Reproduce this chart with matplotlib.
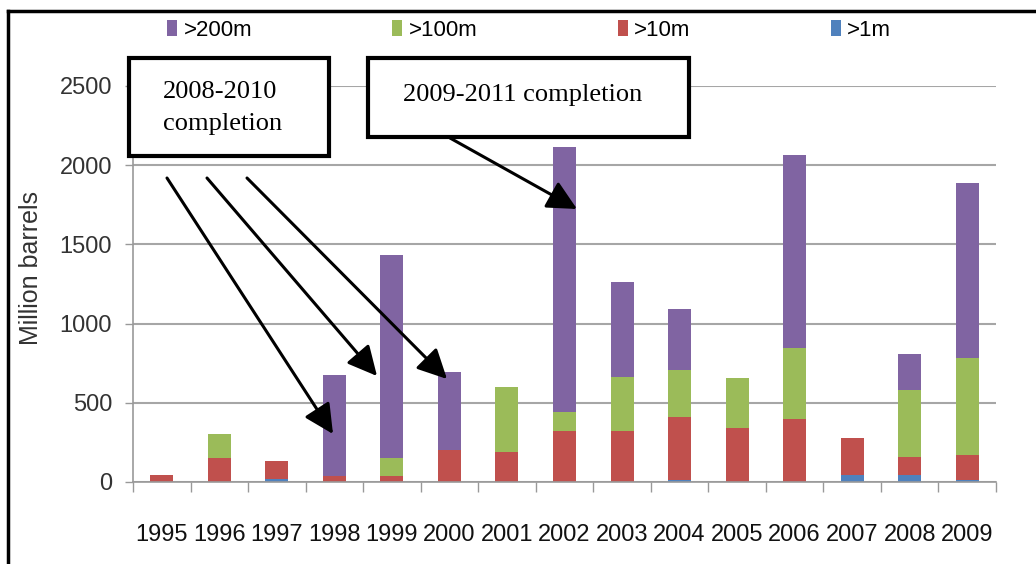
# Librerías.
import numpy as np
import matplotlib.pyplot as plt
from matplotlib.patches import Rectangle, FancyArrowPatch
from matplotlib.lines import Line2D

''' ============================== DATOS ============================== '''

years = ['1995', '1996', '1997', '1998', '1999', '2000', '2001', '2002',
         '2003', '2004', '2005', '2006', '2007', '2008', '2009']

# Millones de barriles por tamaño de campo (se apilan de abajo hacia arriba).
over_1m = [0, 0, 20, 0, 0, 0, 0, 0, 0, 10, 0, 0, 45, 45, 10]
over_10m = [45, 150, 115, 35, 35, 200, 190, 320, 325, 400, 340, 400, 230, 115, 160]
over_100m = [0, 150, 0, 0, 115, 0, 410, 125, 340, 300, 315, 445, 0, 420, 615]
over_200m = [0, 0, 0, 640, 1285, 495, 0, 1670, 600, 380, 0, 1220, 0, 225, 1100]

series = [('>1m', over_1m, '#4f81bd'),
          ('>10m', over_10m, '#c0504d'),
          ('>100m', over_100m, '#9bbb59'),
          ('>200m', over_200m, '#8064a2')]

y_ticks = [0, 500, 1000, 1500, 2000, 2500]

''' ============================== FIGURA ============================== '''

W, H = 1036, 564
sans = ['Liberation Sans', 'DejaVu Sans']


def px(x, y):
    # Pixeles de la imagen a fracción de figura.
    return (x / W, 1 - y / H)


fig = plt.figure(figsize=(W / 100, H / 100), dpi=100)
ax = fig.add_axes([133 / W, 1 - 482 / H, 863 / W, 396 / H])

x = np.arange(len(years))
bottom = np.zeros(len(years))
bars = {}
for name, vals, color in series:
    bars[name] = ax.bar(x, vals, width=0.4, bottom=bottom, color=color, zorder=2)
    bottom += np.array(vals)

ax.set_xlim(-0.5, len(years) - 0.5)
ax.set_ylim(0, 2500)
ax.set_yticks(y_ticks)
ax.set_yticklabels([str(v) for v in y_ticks], family=sans, fontsize=17, color='#333333')
ax.yaxis.grid(True, color='#a6a6a6', lw=1.5, zorder=0)
ax.set_axisbelow(True)

# Marcas del eje x entre categorías.
ax.set_xticks(x)
ax.set_xticklabels(years, family=sans, fontsize=17, color='#111111')
ax.set_xticks(np.arange(-0.5, len(years)), minor=True)
ax.tick_params(axis='x', which='major', length=0, pad=30)
ax.tick_params(axis='x', which='minor', length=7, width=1, color='#999999')
ax.tick_params(axis='y', length=6, width=1, color='#999999', pad=9)

for s in ['top', 'right']:
    ax.spines[s].set_visible(False)
for s in ['left', 'bottom']:
    ax.spines[s].set_color('#999999')
    ax.spines[s].set_linewidth(1.2)

ax.set_ylabel('Million barrels', family=sans, fontsize=18, color='#333333')
ax.yaxis.set_label_coords(-0.104, 0.54)

# Leyenda.
order = ['>200m', '>100m', '>10m', '>1m']
fig.legend([bars[n] for n in order], order, loc='center', bbox_to_anchor=px(529, 30),
           ncol=4, frameon=False, prop={'family': sans, 'size': 16},
           handlelength=0.45, handleheight=0.7, handletextpad=0.3, columnspacing=6.3)

''' ============================== ANOTACIONES ============================== '''

# Cajas de texto.
for (x0, y0, x1, y1) in [(129, 58, 329, 156), (368, 58, 689, 137)]:
    fig.add_artist(Rectangle(px(x0, y1), (x1 - x0) / W, (y1 - y0) / H,
                             transform=fig.transFigure, facecolor='white',
                             edgecolor='black', lw=3, zorder=5))

fig.text(*px(163, 92), '2008-2010', family='Liberation Serif', fontsize=19,
         va='center', ha='left', zorder=6)
fig.text(*px(163, 124), 'completion', family='Liberation Serif', fontsize=19,
         va='center', ha='left', zorder=6)
fig.text(*px(523, 95), '2009-2011 completion', family='Liberation Serif', fontsize=19,
         va='center', ha='center', zorder=6)

# Flechas.
arrows = [((167, 178), (333, 434)),
          ((207, 178), (377, 376)),
          ((247, 178), (447, 379)),
          ((450, 138), (577, 209))]
for start, end in arrows:
    fig.add_artist(FancyArrowPatch(px(*start), px(*end), transform=fig.transFigure,
                                   arrowstyle='-|>,head_length=0.9,head_width=0.45',
                                   mutation_scale=20, lw=2.2, color='black',
                                   shrinkA=0, shrinkB=0, zorder=4))

# Marco de la imagen.
fig.add_artist(Line2D([8 / W, 1], [1 - 11 / H] * 2, transform=fig.transFigure,
                      color='black', lw=2.5))
fig.add_artist(Line2D([8 / W] * 2, [0, 1 - 11 / H], transform=fig.transFigure,
                      color='black', lw=2.5))

fig.savefig('out.png', dpi=100)
